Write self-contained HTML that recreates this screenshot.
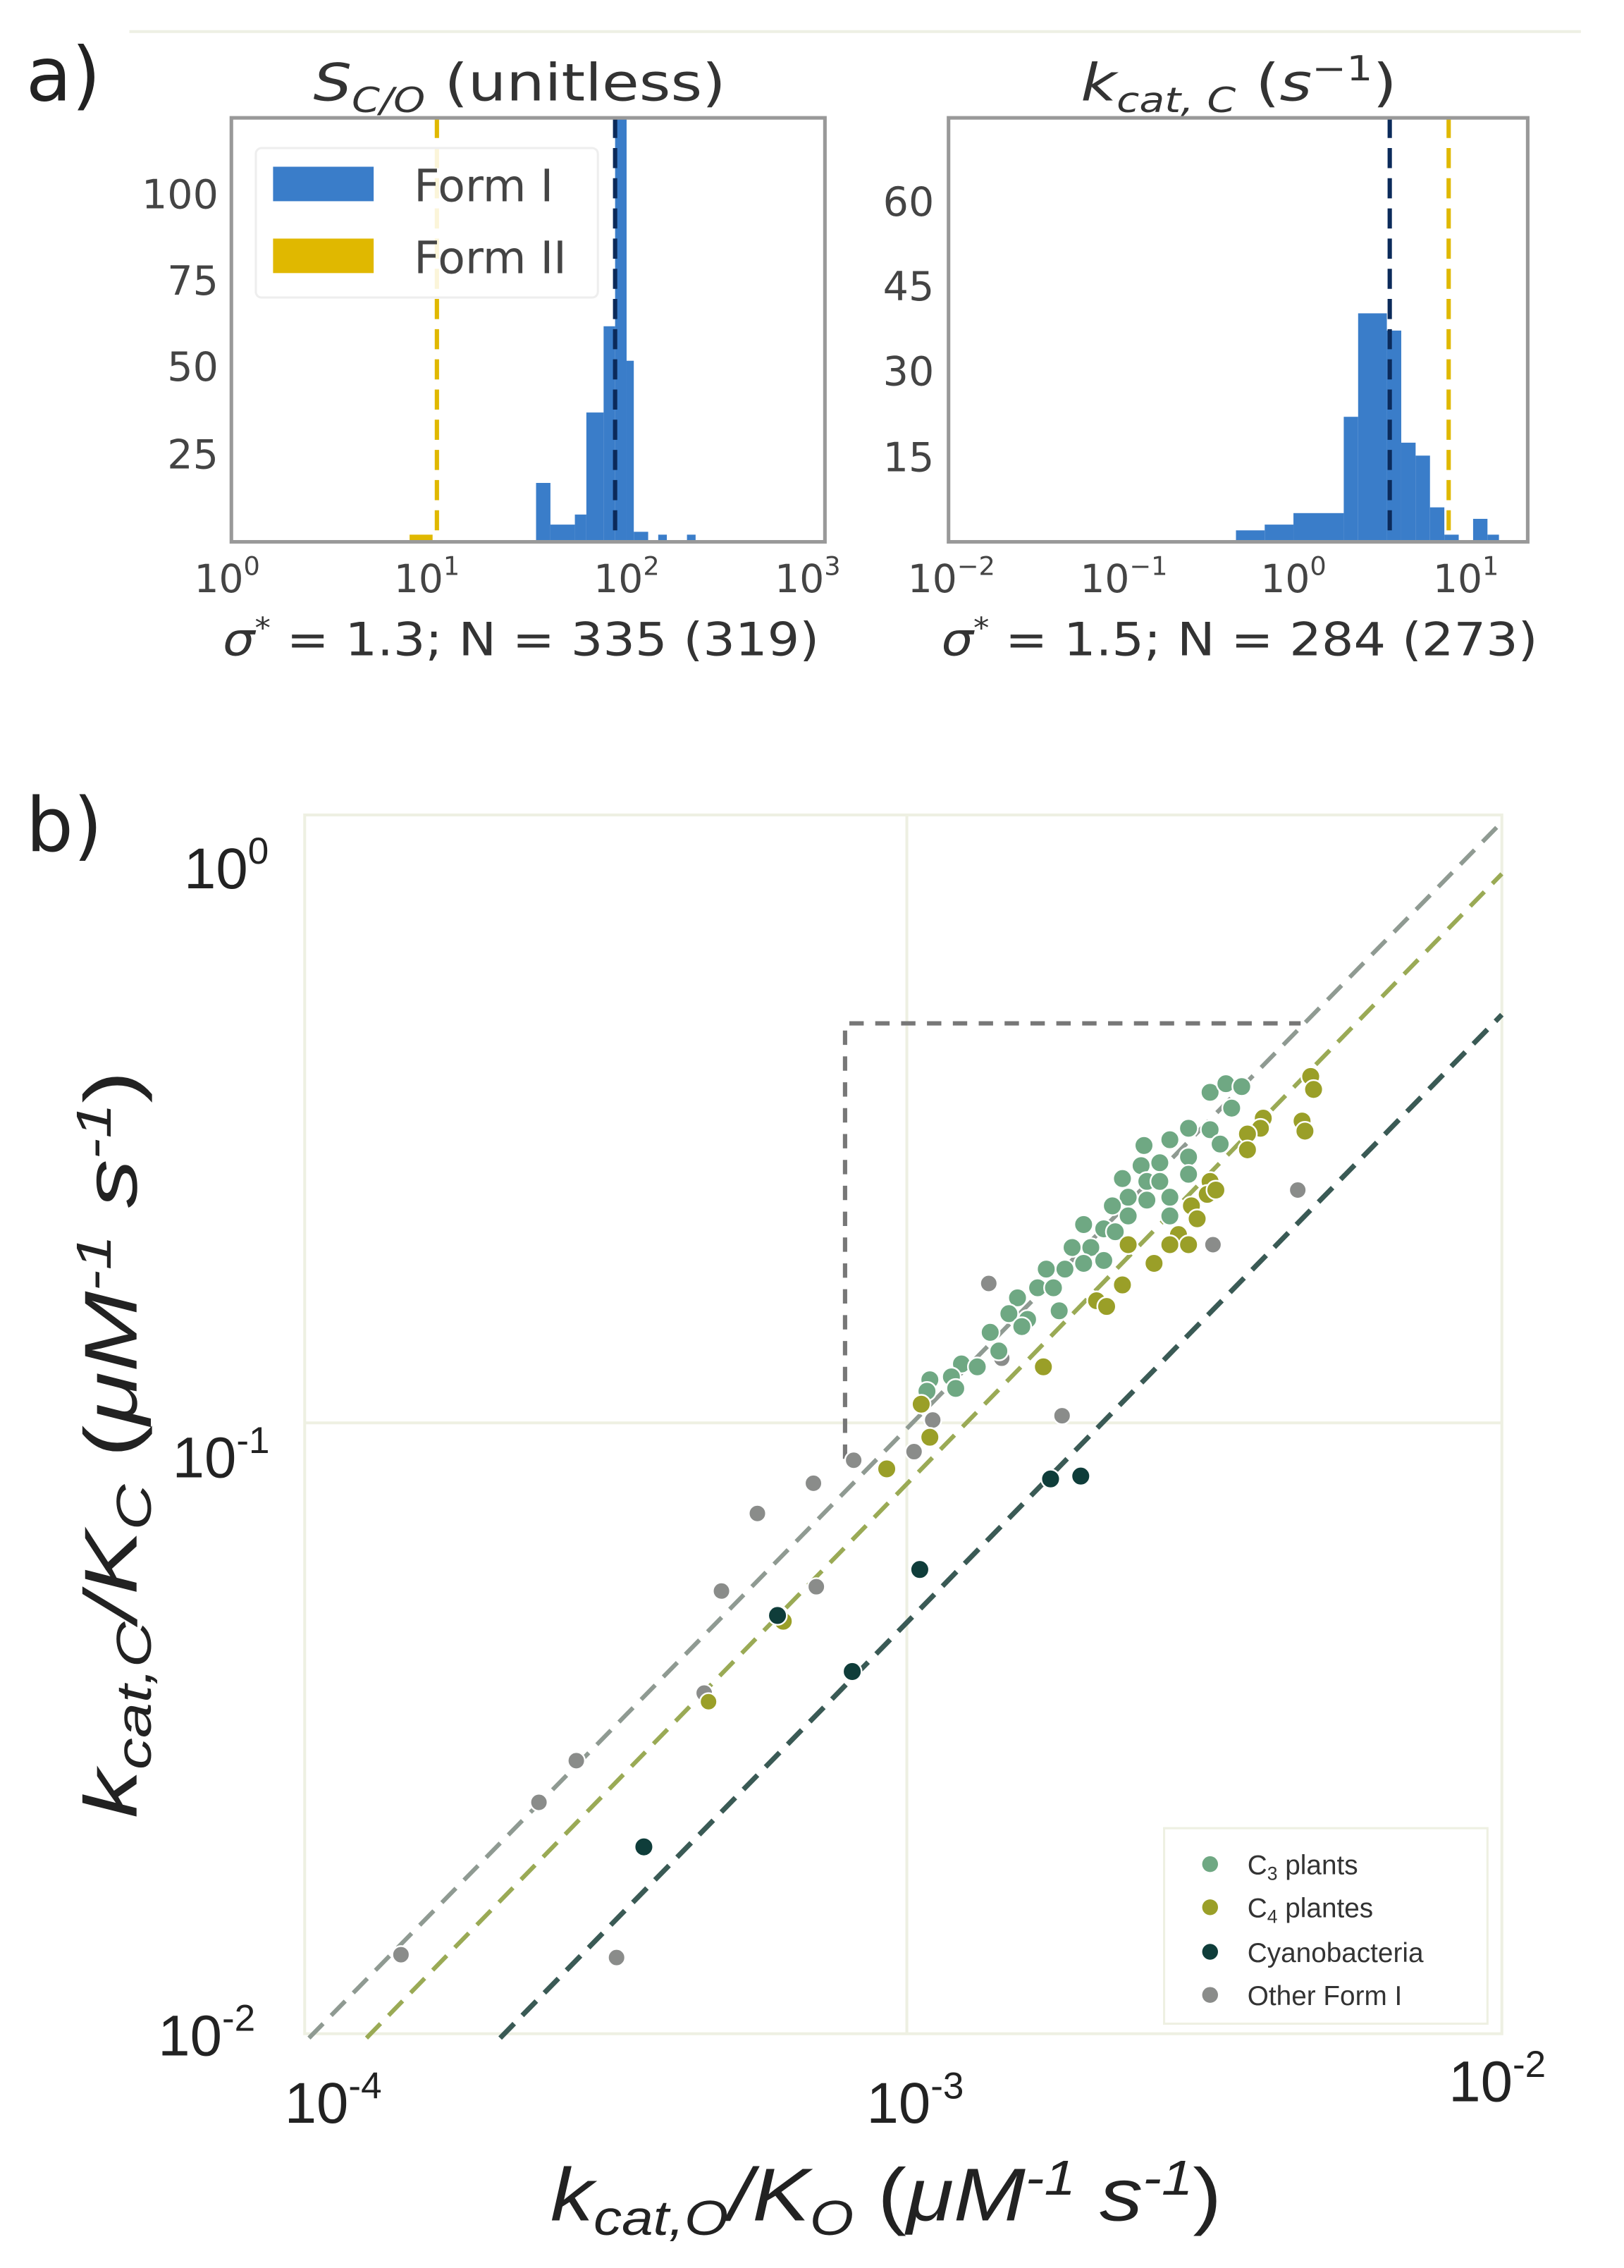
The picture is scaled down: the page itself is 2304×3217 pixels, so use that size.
<!DOCTYPE html>
<html><head><meta charset="utf-8"><style>html,body{margin:0;padding:0;background:#fff}svg{display:block}</style></head>
<body>
<svg width="2304" height="3217" viewBox="0 0 1130 1578" preserveAspectRatio="none" xmlns="http://www.w3.org/2000/svg" font-family="'DejaVu Sans','Liberation Sans',sans-serif">
<rect width="1130" height="1578" fill="#fff"/>
<line x1="90" y1="22" x2="1100" y2="22" stroke="#eef0e4" stroke-width="2"/>
<text x="18" y="70" font-size="52" fill="#222">a)</text>
<!-- left hist -->
<text x="218" y="70" font-size="36" fill="#333" textLength="287" lengthAdjust="spacingAndGlyphs"><tspan font-style="italic">S</tspan><tspan font-size="24" font-style="italic" dy="8">C/O</tspan><tspan dy="-8"> (unitless)</tspan></text>
<g fill="#3a7dc9">
<rect x="373" y="336" width="10" height="41"/><rect x="383" y="365" width="17" height="12"/><rect x="400" y="358" width="8" height="19"/><rect x="408" y="287" width="12" height="90"/><rect x="420" y="227" width="8" height="150"/><rect x="428" y="82" width="8" height="295"/><rect x="436" y="251" width="5" height="126"/><rect x="441" y="370" width="10" height="7"/><rect x="458" y="372" width="6" height="5"/><rect x="478" y="372" width="6" height="5"/>
</g>
<rect x="285" y="372" width="16" height="5" fill="#e0b800"/>
<line x1="304" y1="82" x2="304" y2="377" stroke="#e0b800" stroke-width="3" stroke-dasharray="14,7"/>
<line x1="428" y1="82" x2="428" y2="377" stroke="#0b2a5a" stroke-width="3" stroke-dasharray="14,7"/>
<rect x="161" y="82" width="413" height="295" fill="none" stroke="#999" stroke-width="2.5"/>
<g font-size="28" fill="#444" text-anchor="end"><text x="152" y="145">100</text><text x="152" y="205">75</text><text x="152" y="265">50</text><text x="152" y="326">25</text></g>
<g font-size="27" fill="#444" text-anchor="middle"><text x="158" y="412">10<tspan font-size="18" dy="-12">0</tspan></text><text x="297" y="412">10<tspan font-size="18" dy="-12">1</tspan></text><text x="436" y="412">10<tspan font-size="18" dy="-12">2</tspan></text><text x="562" y="412">10<tspan font-size="18" dy="-12">3</tspan></text></g>
<rect x="178" y="103" width="238" height="104" fill="#fff" fill-opacity="0.85" stroke="#eee" stroke-width="1.5" rx="4"/>
<rect x="190" y="116" width="70" height="24" fill="#3a7dc9"/><rect x="190" y="166" width="70" height="24" fill="#e0b800"/>
<text x="288" y="140" font-size="31" fill="#444">Form I</text><text x="288" y="190" font-size="31" fill="#444">Form II</text>
<text x="155" y="456" font-size="32" fill="#333" textLength="415" lengthAdjust="spacingAndGlyphs"><tspan font-style="italic">σ</tspan><tspan font-size="20" dy="-12">*</tspan><tspan dy="12"> = 1.3; N = 335 (319)</tspan></text>
<!-- right hist -->
<text x="752" y="70" font-size="36" fill="#333" textLength="220" lengthAdjust="spacingAndGlyphs"><tspan font-style="italic">k</tspan><tspan font-size="24" font-style="italic" dy="8">cat, C</tspan><tspan dy="-8"> (</tspan><tspan font-style="italic">s</tspan><tspan font-size="24" dy="-14">−1</tspan><tspan dy="14">)</tspan></text>
<g fill="#3a7dc9">
<rect x="860" y="369" width="20" height="8"/><rect x="880" y="365" width="20" height="12"/><rect x="900" y="357" width="35" height="20"/><rect x="935" y="290" width="10" height="87"/><rect x="945" y="218" width="20" height="159"/><rect x="965" y="230" width="10" height="147"/><rect x="975" y="308" width="10" height="69"/><rect x="985" y="317" width="10" height="60"/><rect x="995" y="353" width="10" height="24"/><rect x="1005" y="372" width="10" height="5"/><rect x="1025" y="361" width="10" height="16"/><rect x="1035" y="372" width="8" height="5"/>
</g>
<line x1="967" y1="82" x2="967" y2="377" stroke="#0b2a5a" stroke-width="3" stroke-dasharray="14,7"/>
<line x1="1008" y1="82" x2="1008" y2="377" stroke="#e0b800" stroke-width="3" stroke-dasharray="14,7"/>
<rect x="660" y="82" width="403" height="295" fill="none" stroke="#999" stroke-width="2.5"/>
<g font-size="28" fill="#444" text-anchor="end"><text x="650" y="150">60</text><text x="650" y="209">45</text><text x="650" y="268">30</text><text x="650" y="328">15</text></g>
<g font-size="27" fill="#444" text-anchor="middle"><text x="662" y="412">10<tspan font-size="18" dy="-12">−2</tspan></text><text x="782" y="412">10<tspan font-size="18" dy="-12">−1</tspan></text><text x="900" y="412">10<tspan font-size="18" dy="-12">0</tspan></text><text x="1020" y="412">10<tspan font-size="18" dy="-12">1</tspan></text></g>
<text x="655" y="456" font-size="32" fill="#333" textLength="415" lengthAdjust="spacingAndGlyphs"><tspan font-style="italic">σ</tspan><tspan font-size="20" dy="-12">*</tspan><tspan dy="12"> = 1.5; N = 284 (273)</tspan></text>
<!-- panel b -->
<text x="18" y="592" font-size="52" fill="#222">b)</text>
<rect x="212" y="567" width="833" height="848" fill="none" stroke="#eef0e2" stroke-width="2"/>
<line x1="631" y1="567" x2="631" y2="1415" stroke="#eef0e2" stroke-width="2"/>
<line x1="212" y1="990" x2="1045" y2="990" stroke="#eef0e2" stroke-width="2"/>
<g fill="none" stroke-dasharray="14,8">
<line x1="215" y1="1418" x2="1045" y2="572" stroke="#8f9a92" stroke-width="3"/>
<line x1="255" y1="1418" x2="1045" y2="608" stroke="#9aaa55" stroke-width="3"/>
<line x1="348" y1="1418" x2="1045" y2="706" stroke="#3a5a55" stroke-width="3.5"/>
<polyline points="588,1015 588,712 905,712" stroke="#777" stroke-width="3" stroke-dasharray="10,8"/>
</g>
<g stroke="#fff" stroke-width="1.2">
<g fill="#8a8c8a">
<circle cx="279" cy="1360" r="6"/><circle cx="429" cy="1362" r="6"/><circle cx="375" cy="1254" r="6"/><circle cx="401" cy="1225" r="6"/><circle cx="490" cy="1178" r="6"/><circle cx="502" cy="1107" r="6"/><circle cx="527" cy="1053" r="6"/><circle cx="566" cy="1032" r="6"/><circle cx="568" cy="1104" r="6"/><circle cx="594" cy="1016" r="6"/>
<circle cx="903" cy="828" r="6"/><circle cx="844" cy="866" r="6"/><circle cx="688" cy="893" r="6"/><circle cx="697" cy="945" r="6"/><circle cx="739" cy="985" r="6"/><circle cx="636" cy="1010" r="6"/><circle cx="649" cy="988" r="6"/>
</g>
<g fill="#6fa883">
<circle cx="842" cy="760" r="6.5"/><circle cx="853" cy="754" r="6.5"/><circle cx="864" cy="756" r="6.5"/><circle cx="857" cy="771" r="6.5"/><circle cx="827" cy="785" r="6.5"/><circle cx="842" cy="786" r="6.5"/><circle cx="849" cy="796" r="6.5"/><circle cx="814" cy="793" r="6.5"/><circle cx="796" cy="797" r="6.5"/><circle cx="827" cy="805" r="6.5"/><circle cx="794" cy="811" r="6.5"/><circle cx="807" cy="809" r="6.5"/><circle cx="781" cy="820" r="6.5"/><circle cx="798" cy="822" r="6.5"/><circle cx="807" cy="822" r="6.5"/><circle cx="827" cy="817" r="6.5"/><circle cx="785" cy="833" r="6.5"/><circle cx="798" cy="835" r="6.5"/><circle cx="814" cy="833" r="6.5"/><circle cx="774" cy="839" r="6.5"/><circle cx="785" cy="846" r="6.5"/><circle cx="814" cy="846" r="6.5"/><circle cx="754" cy="852" r="6.5"/><circle cx="768" cy="855" r="6.5"/><circle cx="776" cy="857" r="6.5"/><circle cx="746" cy="868" r="6.5"/><circle cx="759" cy="868" r="6.5"/><circle cx="768" cy="877" r="6.5"/><circle cx="728" cy="883" r="6.5"/><circle cx="741" cy="883" r="6.5"/><circle cx="754" cy="879" r="6.5"/><circle cx="708" cy="903" r="6.5"/><circle cx="722" cy="896" r="6.5"/><circle cx="733" cy="896" r="6.5"/><circle cx="737" cy="912" r="6.5"/><circle cx="702" cy="914" r="6.5"/><circle cx="715" cy="918" r="6.5"/><circle cx="711" cy="923" r="6.5"/><circle cx="689" cy="927" r="6.5"/><circle cx="695" cy="940" r="6.5"/><circle cx="669" cy="949" r="6.5"/><circle cx="680" cy="951" r="6.5"/><circle cx="647" cy="960" r="6.5"/><circle cx="662" cy="958" r="6.5"/><circle cx="645" cy="968" r="6.5"/><circle cx="665" cy="966" r="6.5"/>
</g>
<g fill="#9a9f28">
<circle cx="912" cy="749" r="6.5"/><circle cx="914" cy="758" r="6.5"/><circle cx="906" cy="780" r="6.5"/><circle cx="908" cy="787" r="6.5"/><circle cx="879" cy="778" r="6.5"/><circle cx="877" cy="785" r="6.5"/><circle cx="868" cy="789" r="6.5"/><circle cx="868" cy="800" r="6.5"/><circle cx="842" cy="822" r="6.5"/><circle cx="840" cy="831" r="6.5"/><circle cx="846" cy="828" r="6.5"/><circle cx="829" cy="839" r="6.5"/><circle cx="833" cy="848" r="6.5"/><circle cx="820" cy="859" r="6.5"/><circle cx="814" cy="866" r="6.5"/><circle cx="827" cy="866" r="6.5"/><circle cx="785" cy="866" r="6.5"/><circle cx="803" cy="879" r="6.5"/><circle cx="781" cy="894" r="6.5"/><circle cx="763" cy="905" r="6.5"/><circle cx="770" cy="909" r="6.5"/><circle cx="726" cy="951" r="6.5"/><circle cx="641" cy="977" r="6.5"/><circle cx="647" cy="1000" r="6.5"/><circle cx="617" cy="1022" r="6.5"/><circle cx="493" cy="1184" r="6"/><circle cx="545" cy="1128" r="6.5"/>
</g>
<g fill="#0f3d3a">
<circle cx="448" cy="1285" r="6.5"/><circle cx="541" cy="1124" r="6.5"/><circle cx="593" cy="1163" r="6.5"/><circle cx="640" cy="1092" r="6.5"/><circle cx="731" cy="1029" r="6.5"/><circle cx="752" cy="1027" r="6.5"/>
</g>
</g>
<g font-size="40" fill="#222" font-family="'Liberation Sans',sans-serif">
<text x="128" y="618">10<tspan font-size="26" dy="-17">0</tspan></text>
<text x="120" y="1028">10<tspan font-size="26" dy="-17">-1</tspan></text>
<text x="110" y="1430">10<tspan font-size="26" dy="-17">-2</tspan></text>
<text x="198" y="1477">10<tspan font-size="26" dy="-17">-4</tspan></text>
<text x="603" y="1477">10<tspan font-size="26" dy="-17">-3</tspan></text>
<text x="1008" y="1462">10<tspan font-size="26" dy="-17">-2</tspan></text>
</g>
<text x="383" y="1545" font-size="52" fill="#222" textLength="467" lengthAdjust="spacingAndGlyphs" font-family="'Liberation Sans',sans-serif" font-style="italic">k<tspan font-size="34" dy="10">cat,O</tspan><tspan dy="-10">/K</tspan><tspan font-size="34" dy="10">O</tspan><tspan dy="-10" font-style="normal"> (</tspan>μM<tspan font-size="34" dy="-18">-1</tspan><tspan dy="18"> s</tspan><tspan font-size="34" dy="-18">-1</tspan><tspan dy="18" font-style="normal">)</tspan></text>
<text transform="translate(95,1265) rotate(-90)" font-size="52" fill="#222" textLength="520" lengthAdjust="spacingAndGlyphs" font-family="'Liberation Sans',sans-serif" font-style="italic">k<tspan font-size="34" dy="10">cat,C</tspan><tspan dy="-10">/K</tspan><tspan font-size="34" dy="10">C</tspan><tspan dy="-10" font-style="normal"> (</tspan>μM<tspan font-size="34" dy="-18">-1</tspan><tspan dy="18"> s</tspan><tspan font-size="34" dy="-18">-1</tspan><tspan dy="18" font-style="normal">)</tspan></text>
<rect x="810" y="1272" width="225" height="136" fill="#fff" stroke="#eef0e2" stroke-width="1.5"/>
<g font-size="19" fill="#333" font-family="'Liberation Sans',sans-serif">
<circle cx="842" cy="1297" r="5.5" fill="#6fa883"/><text x="868" y="1304">C<tspan font-size="13" dy="4">3</tspan><tspan dy="-4"> plants</tspan></text>
<circle cx="842" cy="1327" r="5.5" fill="#9a9f28"/><text x="868" y="1334">C<tspan font-size="13" dy="4">4</tspan><tspan dy="-4"> plantes</tspan></text>
<circle cx="842" cy="1358" r="5.5" fill="#0f3d3a"/><text x="868" y="1365">Cyanobacteria</text>
<circle cx="842" cy="1388" r="5.5" fill="#8a8c8a"/><text x="868" y="1395">Other Form I</text>
</g>
</svg>
</body></html>
